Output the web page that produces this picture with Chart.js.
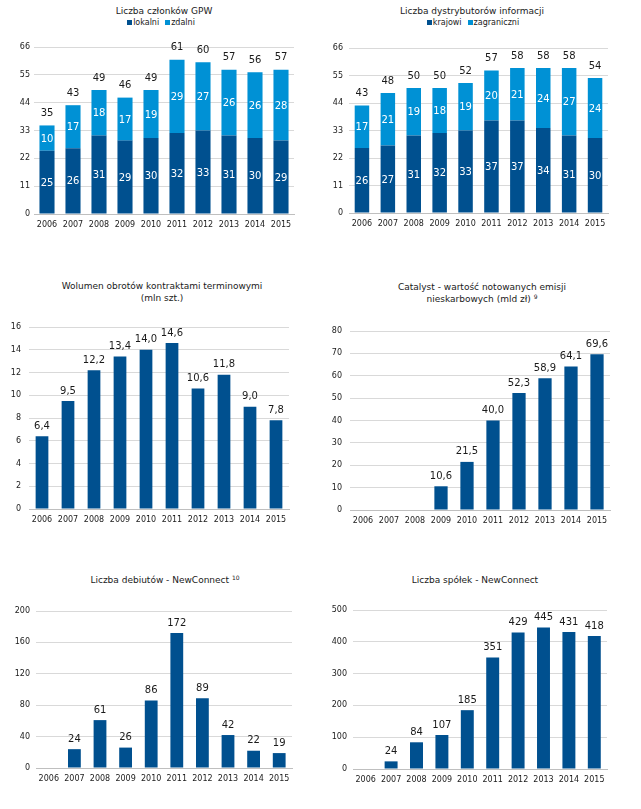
<!DOCTYPE html>
<html>
<head>
<meta charset="utf-8">
<script src="https://cdn.jsdelivr.net/npm/chart.js@4.4.1/dist/chart.umd.min.js"></script>
<style>
  body { margin: 0; background: #fff; width: 641px; height: 809px; position: relative; overflow: hidden; font-family: "DejaVu Sans", sans-serif; }
  canvas { position: absolute; }
  .title { position: absolute; width: 300px; text-align: center; font-size: 9px; line-height: 12px; color: #1a1a1a; white-space: nowrap; }
  .title sup { font-size: 6px; vertical-align: 3px; line-height: 0; }
  .legend { position: absolute; width: 300px; text-align: center; font-size: 8px; line-height: 10px; color: #1a1a1a; }
  .legend i { display: inline-block; width: 5px; height: 5px; margin-right: 1px; vertical-align: 0px; }
  .legend span { margin: 0 3px; }
</style>
</head>
<body>
<script>
const years = ['2006', '2007', '2008', '2009', '2010', '2011', '2012', '2013', '2014', '2015'];

const gpwLocal = [25, 26, 31, 29, 30, 32, 33, 31, 30, 29];
const gpwRemote = [10, 17, 18, 17, 19, 29, 27, 26, 26, 28];

const distDomestic = [26, 27, 31, 32, 33, 37, 37, 34, 31, 30];
const distForeign = [17, 21, 19, 18, 19, 20, 21, 24, 27, 24];

const futuresVolume = [6.4, 9.5, 12.2, 13.4, 14.0, 14.6, 10.6, 11.8, 9.0, 7.8];
const catalystValue = [null, null, null, 10.6, 21.5, 40.0, 52.3, 58.9, 64.1, 69.6];
const ncDebuts = [null, 24, 61, 26, 86, 172, 89, 42, 22, 19];
const ncCompanies = [null, 24, 84, 107, 185, 351, 429, 445, 431, 418];

const DARK = '#00508F';
const LIGHT = '#0091D5';

Chart.defaults.font.family = '"DejaVu Sans", sans-serif';
Chart.defaults.font.size = 8;
Chart.defaults.color = '#1a1a1a';

function fmt(v, dec) {
  return dec ? v.toFixed(dec).replace('.', ',') : String(v);
}

// draws values: white inside stacked segments, totals / values above bars
const valueLabels = {
  id: 'valueLabels',
  afterDatasetsDraw(chart, args, opts) {
    const ctx = chart.ctx;
    const stacked = opts.stacked;
    ctx.save();
    ctx.font = '10px "DejaVu Sans"';
    ctx.textAlign = 'center';
    ctx.textBaseline = 'middle';
    chart.data.datasets.forEach((ds, di) => {
      const meta = chart.getDatasetMeta(di);
      meta.data.forEach((bar, i) => {
        const v = ds.data[i];
        if (v == null) return;
        if (stacked) {
          ctx.fillStyle = '#fff';
          ctx.fillText(fmt(v, 0), bar.x, (bar.y + bar.base) / 2 + 1);
        } else {
          ctx.fillStyle = '#1a1a1a';
          ctx.fillText(fmt(v, opts.decimals), bar.x, bar.y - 10);
        }
      });
    });
    if (stacked) {
      const n = chart.data.datasets.length;
      const top = chart.getDatasetMeta(n - 1);
      top.data.forEach((bar, i) => {
        let sum = 0;
        chart.data.datasets.forEach(ds => { sum += ds.data[i] || 0; });
        ctx.fillStyle = '#1a1a1a';
        ctx.fillText(String(sum), bar.x, bar.y - 12);
      });
    }
    ctx.restore();
  }
};

function addText(cls, html, cx, cy, h) {
  const d = document.createElement('div');
  d.className = cls;
  d.innerHTML = html;
  d.style.left = (cx - 150) + 'px';
  d.style.top = (cy - h / 2) + 'px';
  document.body.appendChild(d);
}

function makeChart(box, area, datasets, y, barPct, tickPad, opts) {
  const c = document.createElement('canvas');
  c.width = box[2] - box[0];
  c.height = box[3] - box[1];
  c.style.left = box[0] + 'px';
  c.style.top = box[1] + 'px';
  document.body.appendChild(c);
  const stacked = !!opts.stacked;
  return new Chart(c, {
    type: 'bar',
    data: {
      labels: years,
      datasets: datasets.map(d => ({
        label: d.label,
        data: d.data,
        backgroundColor: d.color,
        borderWidth: 0,
        barPercentage: barPct,
        categoryPercentage: 1
      }))
    },
    options: {
      responsive: false,
      animation: false,
      layout: { padding: { top: area[1] - box[1], right: box[2] - area[2], left: 0, bottom: 0 } },
      plugins: {
        legend: { display: false },
        tooltip: { enabled: false },
        valueLabels: { stacked: stacked, decimals: opts.decimals || 0 }
      },
      scales: {
        x: {
          stacked: stacked,
          grid: { display: false, drawTicks: false },
          border: { color: '#BFBFBF', width: 1 },
          ticks: { padding: 6, font: { size: 8 }, maxRotation: 0, minRotation: 0, autoSkip: false },
          afterFit(s) { s.height = box[3] - area[3]; }
        },
        y: {
          stacked: stacked,
          min: 0,
          max: y.max,
          ticks: { stepSize: y.step, padding: tickPad, font: { size: 8 } },
          grid: { color: '#D9D9D9', lineWidth: 1, drawTicks: false },
          border: { display: false },
          afterFit(s) { s.width = area[0] - box[0]; }
        }
      }
    },
    plugins: [valueLabels]
  });
}

// 1. Liczba członków GPW
addText('title', 'Liczba członków GPW', 164, 11, 12);
addText('legend', '<span><i style="background:' + DARK + '"></i>lokalni</span><span><i style="background:' + LIGHT + '"></i>zdalni</span>', 161, 23, 10);
makeChart([0, 30, 320, 240], [34, 47, 294, 214],
  [{ label: 'lokalni', data: gpwLocal, color: DARK }, { label: 'zdalni', data: gpwRemote, color: LIGHT }],
  { max: 66, step: 11 }, 0.58, 4, { stacked: true });

// 2. Liczba dystrybutorów informacji
addText('title', 'Liczba dystrybutorów informacji', 472, 11, 12);
addText('legend', '<span><i style="background:' + DARK + '"></i>krajowi</span><span><i style="background:' + LIGHT + '"></i>zagraniczni</span>', 473, 23, 10);
makeChart([320, 30, 641, 240], [349, 48, 608, 213],
  [{ label: 'krajowi', data: distDomestic, color: DARK }, { label: 'zagraniczni', data: distForeign, color: LIGHT }],
  { max: 66, step: 11 }, 0.56, 6, { stacked: true });

// 3. Wolumen obrotów kontraktami terminowymi
addText('title', 'Wolumen obrotów kontraktami terminowymi<br>(mln szt.)', 162, 292, 24);
makeChart([0, 310, 320, 535], [29, 327, 289, 509],
  [{ label: 'wolumen', data: futuresVolume, color: DARK }],
  { max: 16, step: 2 }, 0.49, 8, { decimals: 1 });

// 4. Catalyst
addText('title', 'Catalyst - wartość notowanych emisji<br>nieskarbowych (mld zł) <sup>9</sup>', 482, 293, 24);
makeChart([320, 310, 641, 535], [350, 331, 610, 510],
  [{ label: 'Catalyst', data: catalystValue, color: DARK }],
  { max: 80, step: 10 }, 0.51, 8, { decimals: 1 });

// 5. Liczba debiutów - NewConnect
addText('title', 'Liczba debiutów - NewConnect <sup>10</sup>', 165, 580, 12);
makeChart([0, 595, 320, 800], [36, 611, 292, 768],
  [{ label: 'debiuty', data: ncDebuts, color: DARK }],
  { max: 200, step: 40 }, 0.5, 6, {});

// 6. Liczba spółek - NewConnect
addText('title', 'Liczba spółek - NewConnect', 475, 580, 12);
makeChart([320, 595, 641, 800], [353, 610, 607, 769],
  [{ label: 'spółki', data: ncCompanies, color: DARK }],
  { max: 500, step: 100 }, 0.51, 6, {});
</script>
</body>
</html>
